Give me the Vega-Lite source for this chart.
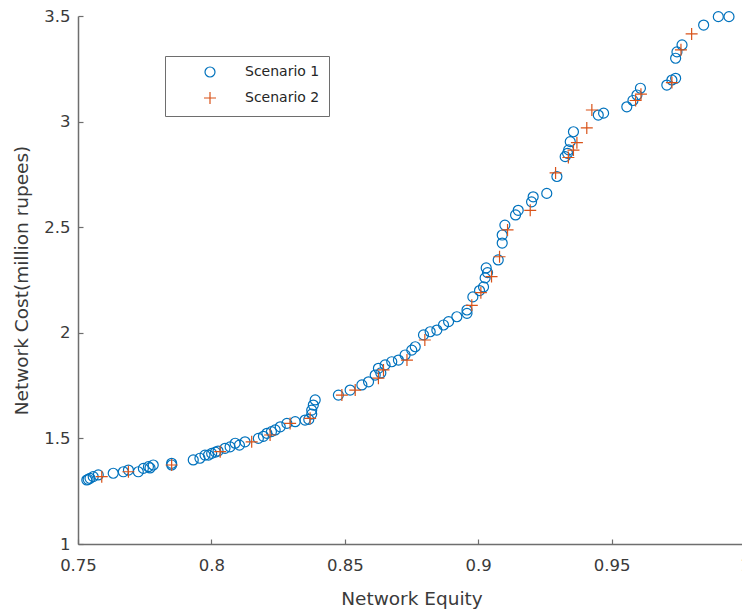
{
  "$schema": "https://vega.github.io/schema/vega-lite/v6.json",
  "autosize": {"type": "none"},
  "padding": {"left": 78, "top": 16, "right": 0, "bottom": 69},
  "width": 667,
  "height": 528,
  "background": "white",
  "config": {
    "view": {"stroke": null},
    "font": "DejaVu Sans",
    "axis": {
      "grid": false,
      "domainColor": "#6e6e6e",
      "domainWidth": 1.5,
      "tickColor": "#6e6e6e",
      "tickWidth": 1.2,
      "tickSize": -5,
      "labelColor": "#3a3a3a",
      "labelFontSize": 16.5,
      "titleColor": "#3a3a3a",
      "titleFontSize": 18.5,
      "titleFontWeight": "normal"
    }
  },
  "data": {
    "values": [
      {"equity": 0.7533, "cost": 1.303, "scenario": "Scenario 1"},
      {"equity": 0.7538, "cost": 1.306, "scenario": "Scenario 1"},
      {"equity": 0.7545, "cost": 1.311, "scenario": "Scenario 1"},
      {"equity": 0.7557, "cost": 1.319, "scenario": "Scenario 1"},
      {"equity": 0.7576, "cost": 1.327, "scenario": "Scenario 1"},
      {"equity": 0.7632, "cost": 1.335, "scenario": "Scenario 1"},
      {"equity": 0.767, "cost": 1.342, "scenario": "Scenario 1"},
      {"equity": 0.7689, "cost": 1.35, "scenario": "Scenario 1"},
      {"equity": 0.7726, "cost": 1.342, "scenario": "Scenario 1"},
      {"equity": 0.7745, "cost": 1.358, "scenario": "Scenario 1"},
      {"equity": 0.777, "cost": 1.36, "scenario": "Scenario 1"},
      {"equity": 0.7764, "cost": 1.366, "scenario": "Scenario 1"},
      {"equity": 0.7782, "cost": 1.374, "scenario": "Scenario 1"},
      {"equity": 0.7851, "cost": 1.374, "scenario": "Scenario 1"},
      {"equity": 0.7851, "cost": 1.382, "scenario": "Scenario 1"},
      {"equity": 0.7932, "cost": 1.398, "scenario": "Scenario 1"},
      {"equity": 0.7957, "cost": 1.406, "scenario": "Scenario 1"},
      {"equity": 0.7976, "cost": 1.421, "scenario": "Scenario 1"},
      {"equity": 0.8001, "cost": 1.429, "scenario": "Scenario 1"},
      {"equity": 0.7989, "cost": 1.421, "scenario": "Scenario 1"},
      {"equity": 0.8015, "cost": 1.435, "scenario": "Scenario 1"},
      {"equity": 0.8025, "cost": 1.44, "scenario": "Scenario 1"},
      {"equity": 0.8051, "cost": 1.453, "scenario": "Scenario 1"},
      {"equity": 0.807, "cost": 1.46, "scenario": "Scenario 1"},
      {"equity": 0.8089, "cost": 1.477, "scenario": "Scenario 1"},
      {"equity": 0.8105, "cost": 1.468, "scenario": "Scenario 1"},
      {"equity": 0.8126, "cost": 1.484, "scenario": "Scenario 1"},
      {"equity": 0.8176, "cost": 1.5, "scenario": "Scenario 1"},
      {"equity": 0.8195, "cost": 1.51, "scenario": "Scenario 1"},
      {"equity": 0.8208, "cost": 1.524, "scenario": "Scenario 1"},
      {"equity": 0.8225, "cost": 1.532, "scenario": "Scenario 1"},
      {"equity": 0.8239, "cost": 1.54, "scenario": "Scenario 1"},
      {"equity": 0.8258, "cost": 1.555, "scenario": "Scenario 1"},
      {"equity": 0.8283, "cost": 1.571, "scenario": "Scenario 1"},
      {"equity": 0.8314, "cost": 1.579, "scenario": "Scenario 1"},
      {"equity": 0.8351, "cost": 1.587, "scenario": "Scenario 1"},
      {"equity": 0.8365, "cost": 1.59, "scenario": "Scenario 1"},
      {"equity": 0.8376, "cost": 1.615, "scenario": "Scenario 1"},
      {"equity": 0.8376, "cost": 1.634, "scenario": "Scenario 1"},
      {"equity": 0.8382, "cost": 1.658, "scenario": "Scenario 1"},
      {"equity": 0.8389, "cost": 1.682, "scenario": "Scenario 1"},
      {"equity": 0.8476, "cost": 1.705, "scenario": "Scenario 1"},
      {"equity": 0.852, "cost": 1.729, "scenario": "Scenario 1"},
      {"equity": 0.8564, "cost": 1.753, "scenario": "Scenario 1"},
      {"equity": 0.8589, "cost": 1.768, "scenario": "Scenario 1"},
      {"equity": 0.8614, "cost": 1.8, "scenario": "Scenario 1"},
      {"equity": 0.8635, "cost": 1.81, "scenario": "Scenario 1"},
      {"equity": 0.8626, "cost": 1.832, "scenario": "Scenario 1"},
      {"equity": 0.8651, "cost": 1.848, "scenario": "Scenario 1"},
      {"equity": 0.8676, "cost": 1.863, "scenario": "Scenario 1"},
      {"equity": 0.8701, "cost": 1.871, "scenario": "Scenario 1"},
      {"equity": 0.8726, "cost": 1.895, "scenario": "Scenario 1"},
      {"equity": 0.8751, "cost": 1.918, "scenario": "Scenario 1"},
      {"equity": 0.8764, "cost": 1.934, "scenario": "Scenario 1"},
      {"equity": 0.8795, "cost": 1.99, "scenario": "Scenario 1"},
      {"equity": 0.882, "cost": 2.005, "scenario": "Scenario 1"},
      {"equity": 0.8845, "cost": 2.013, "scenario": "Scenario 1"},
      {"equity": 0.887, "cost": 2.037, "scenario": "Scenario 1"},
      {"equity": 0.8889, "cost": 2.053, "scenario": "Scenario 1"},
      {"equity": 0.892, "cost": 2.076, "scenario": "Scenario 1"},
      {"equity": 0.8958, "cost": 2.092, "scenario": "Scenario 1"},
      {"equity": 0.8958, "cost": 2.108, "scenario": "Scenario 1"},
      {"equity": 0.898, "cost": 2.17, "scenario": "Scenario 1"},
      {"equity": 0.9005, "cost": 2.2, "scenario": "Scenario 1"},
      {"equity": 0.902, "cost": 2.217, "scenario": "Scenario 1"},
      {"equity": 0.9026, "cost": 2.26, "scenario": "Scenario 1"},
      {"equity": 0.9035, "cost": 2.285, "scenario": "Scenario 1"},
      {"equity": 0.903, "cost": 2.307, "scenario": "Scenario 1"},
      {"equity": 0.9075, "cost": 2.345, "scenario": "Scenario 1"},
      {"equity": 0.909, "cost": 2.425, "scenario": "Scenario 1"},
      {"equity": 0.909, "cost": 2.463, "scenario": "Scenario 1"},
      {"equity": 0.91, "cost": 2.51, "scenario": "Scenario 1"},
      {"equity": 0.914, "cost": 2.558, "scenario": "Scenario 1"},
      {"equity": 0.915, "cost": 2.58, "scenario": "Scenario 1"},
      {"equity": 0.92, "cost": 2.62, "scenario": "Scenario 1"},
      {"equity": 0.9206, "cost": 2.644, "scenario": "Scenario 1"},
      {"equity": 0.9257, "cost": 2.66, "scenario": "Scenario 1"},
      {"equity": 0.9295, "cost": 2.74, "scenario": "Scenario 1"},
      {"equity": 0.9326, "cost": 2.834, "scenario": "Scenario 1"},
      {"equity": 0.9335, "cost": 2.85, "scenario": "Scenario 1"},
      {"equity": 0.9339, "cost": 2.866, "scenario": "Scenario 1"},
      {"equity": 0.9345, "cost": 2.905, "scenario": "Scenario 1"},
      {"equity": 0.9357, "cost": 2.952, "scenario": "Scenario 1"},
      {"equity": 0.945, "cost": 3.031, "scenario": "Scenario 1"},
      {"equity": 0.947, "cost": 3.04, "scenario": "Scenario 1"},
      {"equity": 0.9557, "cost": 3.07, "scenario": "Scenario 1"},
      {"equity": 0.958, "cost": 3.1, "scenario": "Scenario 1"},
      {"equity": 0.9595, "cost": 3.126, "scenario": "Scenario 1"},
      {"equity": 0.9608, "cost": 3.158, "scenario": "Scenario 1"},
      {"equity": 0.9707, "cost": 3.173, "scenario": "Scenario 1"},
      {"equity": 0.9726, "cost": 3.197, "scenario": "Scenario 1"},
      {"equity": 0.974, "cost": 3.205, "scenario": "Scenario 1"},
      {"equity": 0.974, "cost": 3.3, "scenario": "Scenario 1"},
      {"equity": 0.9745, "cost": 3.33, "scenario": "Scenario 1"},
      {"equity": 0.9764, "cost": 3.363, "scenario": "Scenario 1"},
      {"equity": 0.9845, "cost": 3.457, "scenario": "Scenario 1"},
      {"equity": 0.99, "cost": 3.497, "scenario": "Scenario 1"},
      {"equity": 0.994, "cost": 3.497, "scenario": "Scenario 1"},
      {"equity": 0.7589, "cost": 1.319, "scenario": "Scenario 2"},
      {"equity": 0.7689, "cost": 1.342, "scenario": "Scenario 2"},
      {"equity": 0.7851, "cost": 1.374, "scenario": "Scenario 2"},
      {"equity": 0.8033, "cost": 1.437, "scenario": "Scenario 2"},
      {"equity": 0.8151, "cost": 1.484, "scenario": "Scenario 2"},
      {"equity": 0.822, "cost": 1.516, "scenario": "Scenario 2"},
      {"equity": 0.8295, "cost": 1.571, "scenario": "Scenario 2"},
      {"equity": 0.837, "cost": 1.595, "scenario": "Scenario 2"},
      {"equity": 0.8489, "cost": 1.705, "scenario": "Scenario 2"},
      {"equity": 0.8539, "cost": 1.729, "scenario": "Scenario 2"},
      {"equity": 0.8626, "cost": 1.785, "scenario": "Scenario 2"},
      {"equity": 0.8645, "cost": 1.824, "scenario": "Scenario 2"},
      {"equity": 0.8733, "cost": 1.871, "scenario": "Scenario 2"},
      {"equity": 0.88, "cost": 1.966, "scenario": "Scenario 2"},
      {"equity": 0.8976, "cost": 2.13, "scenario": "Scenario 2"},
      {"equity": 0.901, "cost": 2.19, "scenario": "Scenario 2"},
      {"equity": 0.905, "cost": 2.266, "scenario": "Scenario 2"},
      {"equity": 0.908, "cost": 2.36, "scenario": "Scenario 2"},
      {"equity": 0.911, "cost": 2.487, "scenario": "Scenario 2"},
      {"equity": 0.9195, "cost": 2.58, "scenario": "Scenario 2"},
      {"equity": 0.929, "cost": 2.757, "scenario": "Scenario 2"},
      {"equity": 0.9338, "cost": 2.83, "scenario": "Scenario 2"},
      {"equity": 0.9357, "cost": 2.865, "scenario": "Scenario 2"},
      {"equity": 0.937, "cost": 2.9, "scenario": "Scenario 2"},
      {"equity": 0.9407, "cost": 2.97, "scenario": "Scenario 2"},
      {"equity": 0.9426, "cost": 3.055, "scenario": "Scenario 2"},
      {"equity": 0.959, "cost": 3.1, "scenario": "Scenario 2"},
      {"equity": 0.961, "cost": 3.13, "scenario": "Scenario 2"},
      {"equity": 0.9726, "cost": 3.185, "scenario": "Scenario 2"},
      {"equity": 0.976, "cost": 3.34, "scenario": "Scenario 2"},
      {"equity": 0.98, "cost": 3.415, "scenario": "Scenario 2"}
    ]
  },
  "mark": {"type": "point", "filled": false, "size": 100, "strokeWidth": 1.2, "opacity": 1},
  "encoding": {
    "x": {
      "field": "equity",
      "type": "quantitative",
      "title": "Network Equity",
      "scale": {"domain": [0.75, 1], "nice": false, "zero": false},
      "axis": {"values": [0.75, 0.8, 0.85, 0.9, 0.95, 1], "format": ".2~f", "labelPadding": 18, "titlePadding": 16, "labelFlush": false}
    },
    "y": {
      "field": "cost",
      "type": "quantitative",
      "title": "Network Cost(million rupees)",
      "scale": {"domain": [1, 3.5], "nice": false, "zero": false},
      "axis": {"values": [1, 1.5, 2, 2.5, 3, 3.5], "format": ".1~f", "labelPadding": 13, "titlePadding": 12, "labelFlush": false}
    },
    "color": {
      "field": "scenario",
      "type": "nominal",
      "scale": {"domain": ["Scenario 1", "Scenario 2"], "range": ["#0072BD", "#D95319"]},
      "legend": {
        "title": null,
        "orient": "none",
        "legendX": 87,
        "legendY": 40,
        "strokeColor": "#6e6e6e",
        "fillColor": "white",
        "padding": 9,
        "symbolOffset": 29,
        "labelOffset": 28,
        "labelFontSize": 14,
        "labelColor": "#262626",
        "rowPadding": 9,
        "symbolStrokeWidth": 1.2,
        "encode": {"legend": {"update": {"strokeWidth": {"value": 1.5}}}}
      }
    },
    "shape": {
      "field": "scenario",
      "type": "nominal",
      "scale": {"domain": ["Scenario 1", "Scenario 2"], "range": ["circle", "M-1.2,0L1.2,0M0,-1.2L0,1.2"]}
    }
  }
}
